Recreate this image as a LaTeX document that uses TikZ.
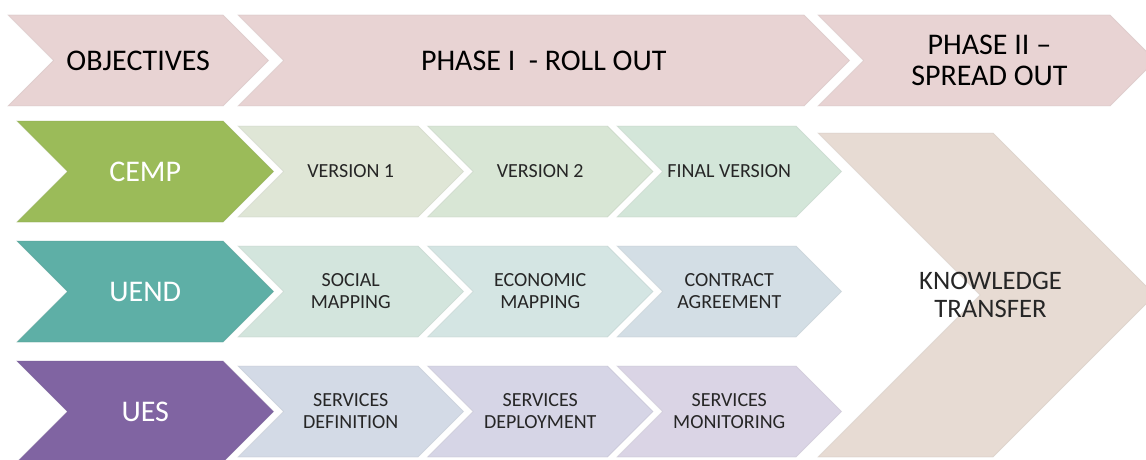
\documentclass[tikz,border=0pt]{standalone}
\usepackage{fontspec}
\setmainfont{Carlito}
\definecolor{toppink}{HTML}{E8D3D3}
\definecolor{cempgreen}{HTML}{9BBB59}
\definecolor{uendteal}{HTML}{5EAFA6}
\definecolor{uespurple}{HTML}{8064A2}
\definecolor{cv1}{HTML}{DFE6D6}
\definecolor{cv2}{HTML}{D8E6D5}
\definecolor{cv3}{HTML}{D3E6D9}
\definecolor{cu1}{HTML}{D3E5DD}
\definecolor{cu2}{HTML}{D4E5E3}
\definecolor{cu3}{HTML}{D3DEE5}
\definecolor{cs1}{HTML}{D3DAE6}
\definecolor{cs2}{HTML}{D6D5E6}
\definecolor{cs3}{HTML}{DAD4E5}
\definecolor{ktcol}{HTML}{E7DBD3}
\definecolor{subgrey}{HTML}{262626}
\tikzset{
  toptext/.style={font=\fontsize{22.5}{23.5}\selectfont, text=black, align=center, inner sep=0pt},
  keytext/.style={font=\fontsize{22.5}{24}\selectfont, text=white, inner sep=0pt},
  subtext/.style={font=\fontsize{15}{16.5}\selectfont, text=subgrey, align=center, inner sep=0pt},
  kttext/.style={font=\fontsize{20}{21}\selectfont, text=subgrey, align=center, inner sep=0pt},
}
% #1 left x, #2 top y, #3 body width, #4 height, #5 colour, #6 centre name
\newcommand\chevshape[6]{%
  \fill[#5, draw=#5!85!black, draw opacity=0.35, line width=0.6, line join=miter]
    (#1,#2) -- ++(#3,0) -- ++(#4/2,#4/2) -- ++(-#4/2,#4/2) -- ++(-#3,0)
    -- ++(#4/2,-#4/2) -- cycle;
  \coordinate (#6) at ({#1+(#3+#4/2)/2},{#2+#4/2});
}
\begin{document}
\begin{tikzpicture}[x=0.75pt,y=-0.75pt]
\useasboundingbox (0,0) rectangle (1146,460);
\clip (0,0) rectangle (1146,460);
% top row
\chevshape{8}{15}{215}{91}{toppink}{objc}
\chevshape{238}{15}{566}{91}{toppink}{ph1c}
\chevshape{818}{15}{292}{91}{toppink}{ph2c}
\node[toptext] (obj) at (objc) {OBJECTIVES};
\node[toptext] (ph1) at (ph1c) {PHASE I \ - ROLL OUT};
\node[toptext, font=\fontsize{22.5}{23.25}\selectfont] (ph2) at ([xshift=2]ph2c) {PHASE II --\\SPREAD OUT};
% key chevrons
\chevshape{17}{121}{206}{101}{cempgreen}{cempc}
\chevshape{17}{241}{206}{101}{uendteal}{uendc}
\chevshape{17}{361}{206}{101}{uespurple}{uesc}
\node[keytext] (cemp) at (cempc) {CEMP};
\node[keytext] (uend) at (uendc) {UEND};
\node[keytext] (ues) at (uesc) {UES};
% CEMP row
\chevshape{238}{126}{180}{91}{cv1}{v1c}
\chevshape{427.5}{126}{180}{91}{cv2}{v2c}
\chevshape{617}{126}{179}{91}{cv3}{v3c}
\node[subtext] (v1) at (v1c) {VERSION 1};
\node[subtext] (v2) at (v2c) {VERSION 2};
\node[subtext] (v3) at (v3c) {FINAL VERSION};
% UEND row
\chevshape{238}{246}{180}{91}{cu1}{u1c}
\chevshape{427.5}{246}{180}{91}{cu2}{u2c}
\chevshape{617}{246}{179}{91}{cu3}{u3c}
\node[subtext] (u1) at (u1c) {SOCIAL\\MAPPING};
\node[subtext] (u2) at (u2c) {ECONOMIC\\MAPPING};
\node[subtext] (u3) at (u3c) {CONTRACT\\AGREEMENT};
% UES row
\chevshape{238}{366}{180}{91}{cs1}{s1c}
\chevshape{427.5}{366}{180}{91}{cs2}{s2c}
\chevshape{617}{366}{179}{91}{cs3}{s3c}
\node[subtext] (s1) at (s1c) {SERVICES\\DEFINITION};
\node[subtext] (s2) at (s2c) {SERVICES\\DEPLOYMENT};
\node[subtext] (s3) at (s3c) {SERVICES\\MONITORING};
% knowledge transfer
\chevshape{818}{133}{175}{324}{ktcol}{ktc}
\node[kttext] (kt) at ([xshift=3]ktc) {KNOWLEDGE\\TRANSFER};
\end{tikzpicture}
\end{document}
